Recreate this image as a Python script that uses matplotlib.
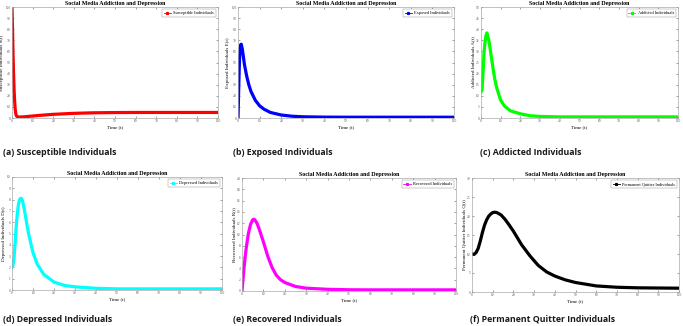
import numpy as np
import matplotlib
matplotlib.use('Agg')
import matplotlib.pyplot as plt
from matplotlib.lines import Line2D

plt.rcParams['font.family'] = ['Liberation Serif', 'DejaVu Serif']

# values
t_s = [0, 0.25, 0.5, 0.75, 1, 1.25, 1.5, 1.75, 2, 2.5, 3, 4, 6, 10, 15, 20, 30, 40, 50, 60, 70, 80, 90, 100]
s_vals = [100, 80, 58, 40, 26, 16, 9, 5, 2.5, 1.2, 0.9, 0.9, 1.1, 1.8, 2.6, 3.3, 4.2, 4.7, 4.9, 5.0, 5.0, 5.0, 5.0, 5.0]

t_e = [0, 0.25, 0.5, 0.75, 1, 1.25, 1.5, 2, 2.5, 3, 4, 5, 6, 8, 10, 12, 15, 20, 25, 30, 40, 50, 60, 80, 100]
e_vals = [0, 20, 40, 55, 63, 66, 66.5, 62, 55, 48, 38, 30, 24, 16, 11, 8, 5, 2.7, 1.6, 1.1, 0.8, 0.7, 0.7, 0.7, 0.7]

t_a = [0, 0.5, 1, 1.5, 2, 2.5, 3, 4, 5, 6, 7, 8, 10, 12, 15, 20, 25, 30, 40, 50, 60, 80, 100]
a_vals = [11.7, 12.5, 20, 29, 34, 37, 38.3, 35, 29, 23, 17.5, 13.5, 8, 5.3, 3.2, 1.9, 1.0, 0.7, 0.5, 0.5, 0.5, 0.5, 0.5]

t_d = [0, 0.5, 1, 1.5, 2, 2.5, 3, 3.5, 4, 4.5, 5, 6, 7, 8, 10, 12, 15, 20, 25, 30, 40, 50, 60, 80, 100]
d_vals = [2.0, 2.2, 2.9, 4.2, 5.6, 6.7, 7.5, 7.95, 8.1, 8.1, 7.9, 7.0, 5.9, 4.9, 3.3, 2.3, 1.4, 0.7, 0.4, 0.28, 0.15, 0.1, 0.1, 0.1, 0.1]

t_r = [0, 0.5, 1, 1.5, 2, 3, 4, 5, 5.5, 6, 7, 8, 10, 12, 14, 16, 18, 20, 25, 30, 40, 50, 60, 80, 100]
r_vals = [0, 2.2, 4.3, 6.1, 7.7, 10.2, 11.8, 12.6, 12.7, 12.6, 12.0, 11.0, 8.7, 6.2, 4.2, 2.8, 2.0, 1.5, 0.8, 0.5, 0.3, 0.22, 0.2, 0.2, 0.2]

t_q = [0, 1, 2, 3, 4, 5, 6, 7, 8, 9, 10, 11, 12, 14, 16, 18, 20, 24, 28, 32, 36, 40, 45, 50, 60, 70, 80, 90, 100]
q_vals = [10, 9.9, 10.4, 11.5, 13.4, 15.6, 17.5, 18.9, 19.9, 20.5, 20.9, 21.0, 20.9, 20.3, 19.1, 17.6, 16.0, 12.4, 9.5, 7.0, 5.3, 4.2, 3.2, 2.5, 1.6, 1.25, 1.1, 1.05, 1.0]

names = ['Susceptible Individuals', 'Exposed Individuals', 'Addicted Individuals',
         'Depressed Individuals', 'Recovered Individuals', 'Permanent Quitter Individuals']
ylabels = ['Susceptible Individuals S(t)', 'Exposed Individuals E(t)', 'Addicted Individuals A(t)',
           'Depressed Individuals D(t)', 'Recovered Individuals R(t)', 'Permanent Quitter Individuals Q(t)']
captions = ['(a) Susceptible Individuals', '(b) Exposed Individuals', '(c) Addicted Individuals',
            '(d) Depressed Individuals', '(e) Recovered Individuals', '(f) Permanent Quitter Individuals']
ymax = [100, 100, 50, 10, 20, 30]
ystep = [10, 10, 5, 1, 2, 5]
colors = ['#ff0000', '#0000ff', '#00ff00', '#00ffff', '#ff00ff', '#000000']
series = [(t_s, s_vals), (t_e, e_vals), (t_a, a_vals), (t_d, d_vals), (t_r, r_vals), (t_q, q_vals)]

# axes boxes in pixels: left, top, right, bottom
boxes = [(12, 7, 218, 118), (238, 7, 454, 118), (481, 7, 678, 118),
         (12, 177, 222, 290), (242, 178, 456, 291), (472, 178, 679, 292)]
cap_pos = [(3, 153), (233, 153), (480, 153), (3, 319), (233, 319), (470, 319)]

W, H = 683, 326
fig = plt.figure(figsize=(W / 100, H / 100), dpi=100)

for i in range(6):
    l, t, r, b = boxes[i]
    ax = fig.add_axes([l / W, 1 - b / H, (r - l) / W, (b - t) / H])
    x, y = series[i]
    ax.plot(x, y, color=colors[i], lw=2.3)
    ax.set_xlim(0, 100)
    ax.set_ylim(0, ymax[i])
    ax.set_xticks(np.arange(0, 101, 10))
    ax.set_yticks(np.arange(0, ymax[i] + 0.01, ystep[i]))
    ax.tick_params(direction='in', length=1.5, width=0.4, labelsize=2.6, pad=1,
                   top=True, right=True, colors='#555555')
    for sp in ax.spines.values():
        sp.set_color('#aaaaaa')
        sp.set_linewidth(0.5)
    ax.set_title('Social Media Addiction and Depression', fontsize=4.3, fontweight='bold', pad=1.5)
    ax.set_xlabel('Time (t)', fontsize=3.6, labelpad=1)
    ax.set_ylabel(ylabels[i], fontsize=3.6, labelpad=1)
    h = Line2D([], [], color=colors[i], lw=0.6, marker='*', markersize=2)
    leg = ax.legend([h], [names[i]], loc='upper right', fontsize=3.2, handlelength=1.6,
                    borderpad=0.4, handletextpad=0.5, fancybox=False, framealpha=1)
    leg.get_frame().set_linewidth(0.3)
    leg.get_frame().set_edgecolor('#888888')
    cx, cy = cap_pos[i]
    fig.text(cx / W, 1 - cy / H, captions[i], fontsize=6.3, fontweight='bold',
             family=['Open Sans', 'DejaVu Sans'], va='center', ha='left', color='#1a1a1a')

plt.savefig('out.png', dpi=100)
